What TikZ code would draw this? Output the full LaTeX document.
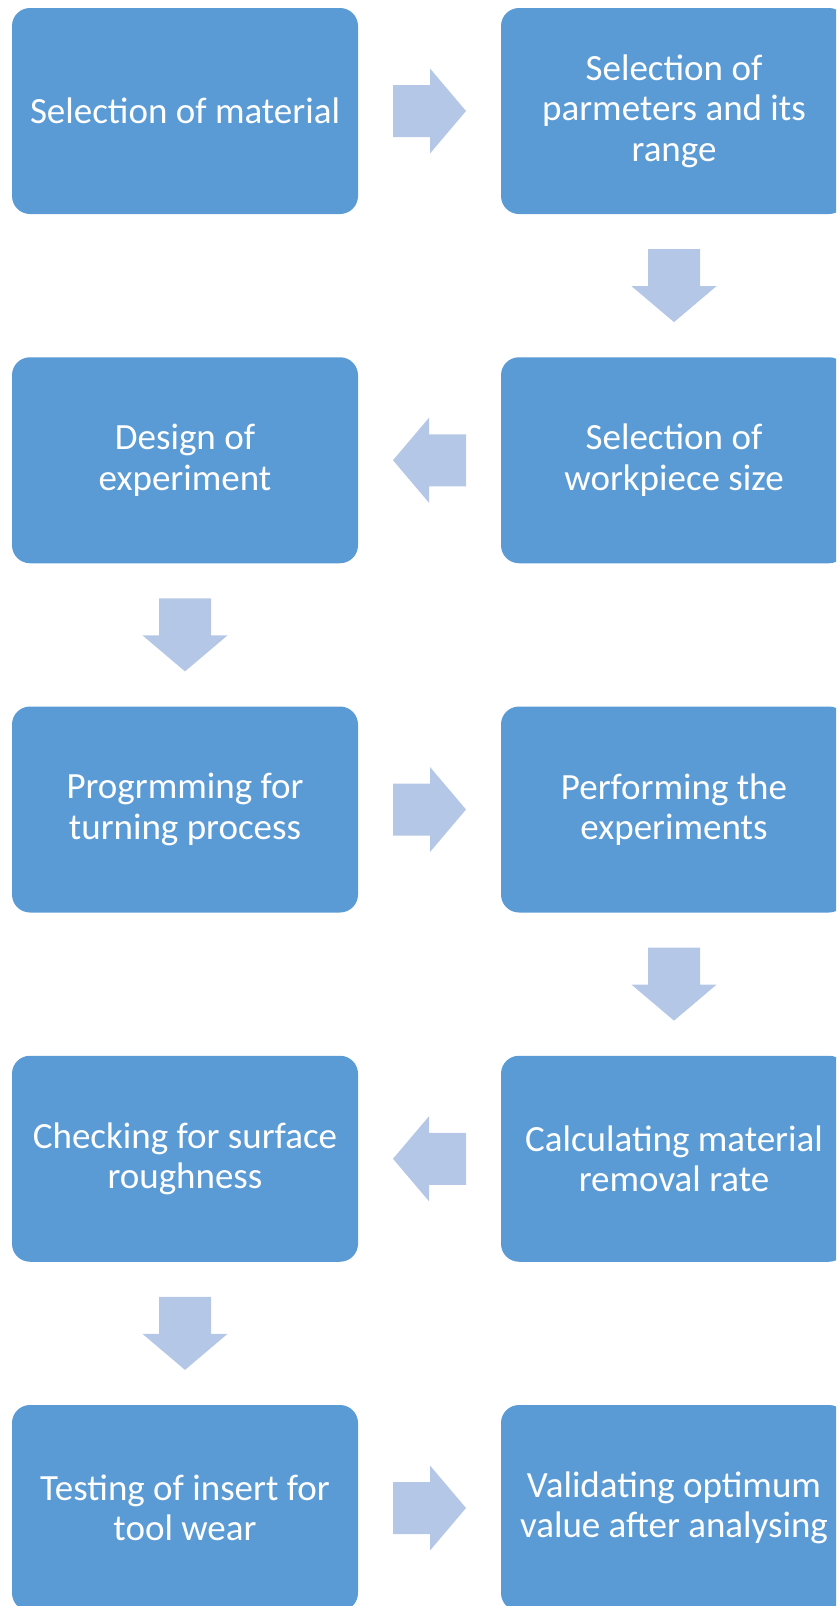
\documentclass[tikz,border=0pt]{standalone}
\usepackage{fontspec}
\setmainfont{Carlito}
\usetikzlibrary{calc}
\definecolor{boxblue}{HTML}{5B9BD5}
\definecolor{arrowblue}{HTML}{B4C7E7}
\begin{document}
\begin{tikzpicture}[x=1pt,y=1pt,
  stepbox/.style={rectangle, fill=boxblue, rounded corners=18pt, minimum width=346pt, minimum height=206pt, inner sep=0pt, text=white, align=center, font=\fontsize{37}{40.5}\selectfont},
  flowarrow/.pic={\fill[arrowblue] (-36.5,-26) -- (0.5,-26) -- (0.5,-42.5) -- (36.5,0) -- (0.5,42.5) -- (0.5,26) -- (-36.5,26) -- cycle;}]
\useasboundingbox (0,0) rectangle (836,-1606);
\clip (0,0) rectangle (836,-1606);
\node[stepbox] (n1) at (185,-111) {Selection of material};
\node[stepbox] (n2) at (674,-111) {Selection of\\parmeters and its\\range};
\node[stepbox] (n3) at (674,-460.25) {Selection of\\workpiece size};
\node[stepbox] (n4) at (185,-460.25) {Design of\\experiment};
\node[stepbox] (n5) at (185,-809.5) {Progrmming for\\turning process};
\node[stepbox] (n6) at (674,-809.5) {Performing the\\experiments};
\node[stepbox] (n7) at (674,-1158.75) {Calculating material\\removal rate};
\node[stepbox] (n8) at (185,-1158.75) {Checking for surface\\roughness};
\node[stepbox] (n9) at (185,-1508) {Testing of insert for\\tool wear};
\node[stepbox] (n10) at (674,-1508) {Validating optimum\\value after analysing};
\pic at ($(n1.east)!0.5!(n2.west)$) {flowarrow};
\pic[rotate=-90] at ($(n2.south)!0.5!(n3.north)$) {flowarrow};
\pic[rotate=180] at ($(n3.west)!0.5!(n4.east)$) {flowarrow};
\pic[rotate=-90] at ($(n4.south)!0.5!(n5.north)$) {flowarrow};
\pic at ($(n5.east)!0.5!(n6.west)$) {flowarrow};
\pic[rotate=-90] at ($(n6.south)!0.5!(n7.north)$) {flowarrow};
\pic[rotate=180] at ($(n7.west)!0.5!(n8.east)$) {flowarrow};
\pic[rotate=-90] at ($(n8.south)!0.5!(n9.north)$) {flowarrow};
\pic at ($(n9.east)!0.5!(n10.west)$) {flowarrow};
\end{tikzpicture}
\end{document}
